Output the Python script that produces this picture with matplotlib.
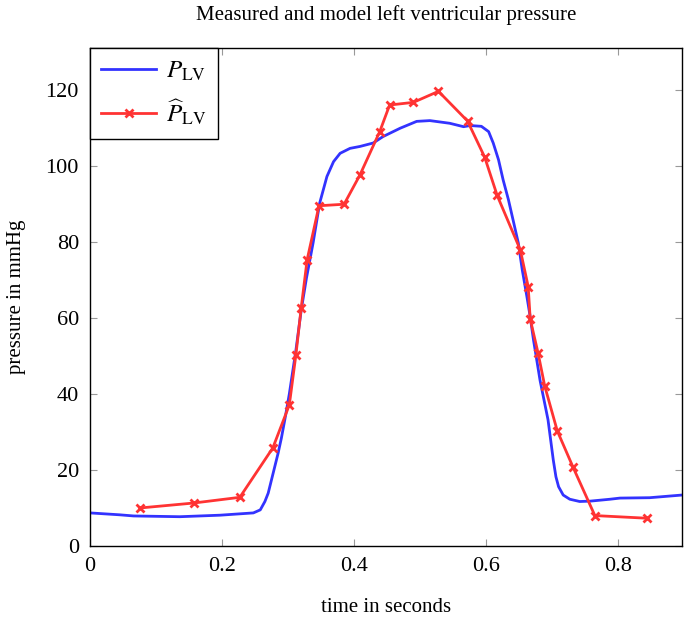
#!/usr/bin/env python3
"""Measured vs. model left ventricular pressure."""

import matplotlib

matplotlib.use("Agg")

import matplotlib.pyplot as plt

# model curve P_LV (time in s, pressure in mmHg)
model_t = [0.0, 0.045, 0.066, 0.136, 0.197, 0.2475, 0.258, 0.265, 0.270,
           0.275, 0.280, 0.285, 0.290, 0.296, 0.302, 0.312, 0.320, 0.328,
           0.338, 0.348, 0.359, 0.369, 0.379, 0.394, 0.409, 0.429, 0.444,
           0.470, 0.495, 0.515, 0.545, 0.566, 0.576, 0.593, 0.604, 0.611,
           0.619, 0.626, 0.634, 0.641, 0.649, 0.655, 0.662, 0.667, 0.672,
           0.682, 0.694, 0.698, 0.702, 0.706, 0.710, 0.717, 0.727, 0.742,
           0.758, 0.788, 0.803, 0.848, 0.897]
model_p = [8.7, 8.2, 7.9, 7.7, 8.1, 8.7, 9.5, 11.7, 13.9,
           17.4, 20.9, 24.4, 28.4, 34.0, 40.0, 51.5, 62.0, 70.5,
           79.7, 90.2, 97.2, 101.1, 103.3, 104.6, 105.1, 106.0, 107.7,
           109.9, 111.7, 111.9, 111.2, 110.3, 110.6, 110.4, 109.0, 106.0,
           101.6, 96.3, 91.1, 85.8, 79.7, 72.6, 65.6, 60.3, 54.2,
           43.5, 33.2, 27.9, 22.6, 18.2, 15.6, 13.4, 12.3, 11.7,
           11.8, 12.3, 12.6, 12.7, 13.4]

# measured samples \hat P_LV
meas_t = [0.076, 0.157, 0.227, 0.277, 0.302, 0.312, 0.320, 0.329, 0.347,
          0.385, 0.409, 0.439, 0.454, 0.490, 0.528, 0.572, 0.598, 0.617,
          0.652, 0.664, 0.667, 0.679, 0.689, 0.708, 0.732, 0.765, 0.844]
meas_p = [10.0, 11.3, 12.8, 25.8, 37.1, 50.3, 62.6, 75.3, 89.5,
          89.9, 97.6, 109.0, 116.0, 116.7, 119.6, 111.8, 102.3, 92.2,
          77.9, 68.2, 59.7, 50.7, 42.1, 30.3, 20.7, 8.0, 7.3]

x_ticks = [0, 0.2, 0.4, 0.6, 0.8]
x_tick_labels = ["0", "0.2", "0.4", "0.6", "0.8"]
y_ticks = [0, 20, 40, 60, 80, 100, 120]

plt.rcParams["font.family"] = ["Liberation Serif", "DejaVu Serif"]
plt.rcParams["mathtext.fontset"] = "stix"

fig = plt.figure(figsize=(6.85, 6.17), dpi=100)
ax = fig.add_axes([0.1314, 0.1151, 0.8642, 0.8071])

ax.plot(model_t, model_p, color="#3333ff", linewidth=2.0,
        solid_joinstyle="round", label=r"$P_{\mathrm{LV}}$")
ax.plot(meas_t, meas_p, color="#ff3333", linewidth=2.0, marker="x",
        markersize=6, markeredgewidth=2.0, solid_joinstyle="round",
        label=r"$\widehat{P}_{\mathrm{LV}}$")

ax.set_xlim(0, 0.897)
ax.set_ylim(0, 131)
ax.set_xticks(x_ticks)
ax.set_xticklabels(x_tick_labels)
ax.set_yticks(y_ticks)
ax.tick_params(direction="in", length=5, width=0.8, color="#999999",
               top=True, right=True, labelsize=16, pad=8)
for sp in ax.spines.values():
    sp.set_linewidth(1.0)

ax.set_title("Measured and model left ventricular pressure", fontsize=15, pad=20)
ax.set_xlabel("time in seconds", fontsize=15, labelpad=16)
ax.set_ylabel("pressure in mmHg", fontsize=15, labelpad=14)

leg = ax.legend(loc="upper left", borderaxespad=0, fancybox=False,
                framealpha=1, edgecolor="black", fontsize=18,
                handlelength=2.2, handletextpad=0.4, borderpad=0.45,
                labelspacing=0.6)
leg.get_frame().set_linewidth(1.0)

fig.savefig("out.png", dpi=100)
plt.close(fig)
